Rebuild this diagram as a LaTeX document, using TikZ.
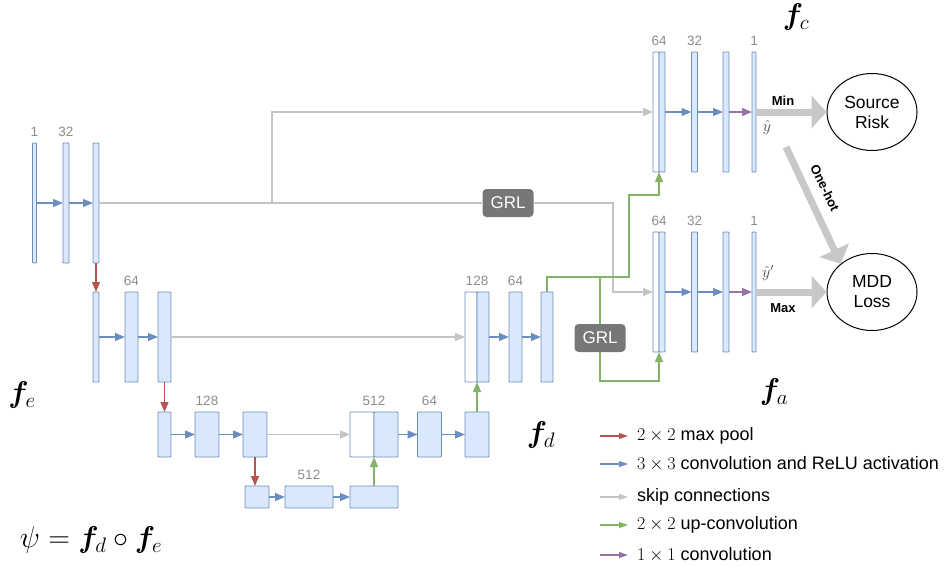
\documentclass[tikz,border=0pt]{standalone}
\usepackage{fix-cm}
\usepackage{amsmath,amssymb,bm}
\usepackage{fontspec}
\setmainfont{Liberation Sans}
\usepackage{tikz}
\usetikzlibrary{arrows.meta,calc,positioning,shapes.geometric}
\definecolor{barfill}{HTML}{DAE8FC}
\definecolor{bardraw}{HTML}{6C8EBF}
\definecolor{poolred}{HTML}{B85450}
\definecolor{upgreen}{HTML}{82B366}
\definecolor{skipgray}{HTML}{C4C4C4}
\definecolor{onepurple}{HTML}{9673A6}
\definecolor{grlgray}{HTML}{777777}
\definecolor{lossgray}{HTML}{C8C8C8}
\definecolor{numgray}{HTML}{8C8C8C}
\tikzset{
    mybar/.style 2 args={draw=bardraw,fill=barfill,line width=0.9pt,rounded corners=0.8pt,inner sep=0pt,outer sep=0pt,minimum width=#1,minimum height=#2},
    myhalf/.style 2 args={mybar={#1}{#2},fill=white},
    myconv/.style={draw=bardraw,line width=1.2pt,-{Triangle[length=10pt,width=8pt]}},
    mypool/.style={myconv,draw=poolred},
    myup/.style={myconv,draw=upgreen},
    myskip/.style={myconv,draw=skipgray,line width=1.4pt},
    myone/.style={myconv,draw=onepurple},
    mybig/.style={draw=lossgray,line width=7pt,-{Triangle[length=15pt,width=32pt]}},
    mygrl/.style={fill=grlgray,text=white,rounded corners=4pt,minimum width=51pt,minimum height=28pt,inner sep=0pt,font=\fontsize{17}{17}\selectfont},
    myloss/.style={ellipse,draw=black,line width=1pt,minimum width=90pt,minimum height=77pt,inner sep=0pt,align=center,font=\fontsize{17.5}{20}\selectfont},
    mynum/.style={text=numgray,inner sep=0pt,font=\fontsize{13.5}{14}\selectfont},
    mytag/.style={inner sep=0pt,font=\bfseries\fontsize{13}{14}\selectfont},
    myhat/.style={inner sep=0pt,text=black!70,font=\fontsize{16}{16}\selectfont},
    myf/.style={inner sep=0pt,font=\fontsize{30}{32}\selectfont},
    mylegend/.style={line width=1.2pt,-{Triangle[length=9pt,width=6pt]}},
    mykey/.style={anchor=west,inner sep=0pt,font=\fontsize{18}{20}\selectfont}
}
\begin{document}
\begin{tikzpicture}[x=1pt,y=-1pt]
  \useasboundingbox (0,0) rectangle (947,565);

  % 编码器
  \node[mybar={4pt}{120pt}] (e11) at (34.5,203) {};
  \node[mybar={6pt}{120pt}] (e12) at (66,203) {};
  \node[mybar={6pt}{120pt}] (e13) at (96,203) {};
  \node[mybar={6pt}{90pt}] (e21) at (96,337) {};
  \node[mybar={13pt}{90pt}] (e22) at (131.5,337) {};
  \node[mybar={13pt}{90pt}] (e23) at (164.5,337) {};
  \node[mybar={13pt}{45pt}] (e31) at (164.5,434.5) {};
  \node[mybar={24pt}{45pt}] (e32) at (207,434.5) {};
  \node[mybar={24pt}{45pt}] (e33) at (255,434.5) {};
  \node[mybar={24pt}{22pt}] (b1) at (257,497) {};
  \node[mybar={48pt}{22pt}] (b2) at (309,497) {};
  \node[mybar={48pt}{22pt}] (b3) at (374,497) {};

  % 解码器
  \node[myhalf={24pt}{45pt}] (d31a) at (362,434.5) {};
  \node[mybar={24pt}{45pt}] (d31b) at (386,434.5) {};
  \node[mybar={24pt}{45pt}] (d32) at (429.5,434.5) {};
  \node[mybar={24pt}{45pt}] (d33) at (477,434.5) {};
  \node[myhalf={12pt}{90pt}] (d21a) at (471,337) {};
  \node[mybar={12pt}{90pt}] (d21b) at (483,337) {};
  \node[mybar={13pt}{90pt}] (d22) at (515.5,337) {};
  \node[mybar={12pt}{90pt}] (d23) at (547,337) {};

  % 通道数
  \node[mynum,above=6pt of e11.north] (n11) {1};
  \node[mynum,above=6pt of e12.north] (n12) {32};
  \node[mynum,above=6pt of e22.north] (n22) {64};
  \node[mynum,above=6pt of e32.north] (n32) {128};
  \node[mynum,above=6pt of b2.north] (nb2) {512};
  \node[mynum,above=6pt of d31a.north east] (nd31) {512};
  \node[mynum,above=6pt of d32.north] (nd32) {64};
  \node[mynum,above=6pt of d21a.north east] (nd21) {128};
  \node[mynum,above=6pt of d22.north] (nd22) {64};

  % 卷积与池化
  \draw[myconv] (e11.east) -- (e12.west);
  \draw[myconv] (e12.east) -- (e13.west);
  \draw[myconv] (e21.east) -- (e22.west);
  \draw[myconv] (e22.east) -- (e23.west);
  \draw[myconv] (e31.east) -- (e32.west);
  \draw[myconv] (e32.east) -- (e33.west);
  \draw[myconv] (b1.east) -- (b2.west);
  \draw[myconv] (b2.east) -- (b3.west);
  \draw[myconv] (d31b.east) -- (d32.west);
  \draw[myconv] (d32.east) -- (d33.west);
  \draw[myconv] (d21b.east) -- (d22.west);
  \draw[myconv] (d22.east) -- (d23.west);
  \draw[mypool] (e13.south) -- (e21.north);
  \draw[mypool] (e23.south) -- (e31.north);
  \draw[mypool] (e33.south) -- (e33.south |- b1.north);
  \draw[myup] (b3.north) -- (b3.north |- d31b.south);
  \draw[myup] (d33.north) -- (d33.north |- d21b.south);

  % 两个分类头
  \foreach \h/\y in {c/112,a/292}{
    \node[myhalf={6pt}{120pt}] (\h1) at (656,\y) {};
    \node[mybar={6pt}{120pt}] (\h2) at (662,\y) {};
    \node[mybar={6pt}{120pt}] (\h3) at (694.5,\y) {};
    \node[mybar={6pt}{120pt}] (\h4) at (726,\y) {};
    \node[mybar={4pt}{120pt}] (\h5) at (754,\y) {};
    \draw[myconv] (\h2.east) -- (\h3.west);
    \draw[myconv] (\h3.east) -- (\h4.west);
    \draw[myone] (\h4.east) -- (\h5.west);
    \node[mynum,above=6pt of \h1.north east] (\h n1) {64};
    \node[mynum,above=6pt of \h3.north] (\h n3) {32};
    \node[mynum,above=6pt of \h5.north] (\h n5) {1};
  }

  % 跳跃连接
  \node[mygrl] (grl1) at (508,203) {GRL};
  \node[mygrl] (grl2) at (600,338) {GRL};
  \coordinate (sk1) at (272,203);
  \coordinate (sk2) at (613,203);
  \draw[myskip,-] (e13.east) -- (sk1) -- (grl1.west);
  \draw[myskip] (sk1) |- (c1.west);
  \draw[myskip] (grl1.east) -- (sk2) |- (a1.west);
  \draw[myskip] (e23.east) -- (d21a.west);
  \draw[myskip] (e33.east) -- (d31a.west);

  % 上采样到分类头
  \coordinate (g1) at (547,277);
  \coordinate (g2) at (629,277);
  \coordinate (g3) at (629,195);
  \coordinate (g4) at (600,277);
  \coordinate (g5) at (659,381);
  \draw[myup] (d23.north) |- (g1) -- (g2) -- (g3) -| (c1.south east);
  \draw[draw=upgreen,line width=1.2pt] (g4) -- (grl2.north);
  \draw[myup] (grl2.south) |- (g5) -- (a1.south east);

  % 损失
  \node[myloss] (src) at (872,112) {Source\\Risk};
  \node[myloss] (mdd) at (872,292) {MDD\\Loss};
  \coordinate (oh) at (786,147);
  \draw[mybig] (c5.east) -- (src.west);
  \draw[mybig] (a5.east) -- (mdd.west);
  \draw[mybig] (oh) -- (mdd.138);
  \node[mytag] (tmin) at (783,101) {Min};
  \node[mytag] (tmax) at (783,308) {Max};
  \node[mytag,rotate=-64] (toh) at (825,188) {One-hot};
  \node[myhat] (yc) at (767,127) {$\hat{y}$};
  \node[myhat] (ya) at (768,273) {$\hat{y}'$};

  % 网络记号
  \node[myf] (fc) at (796,17) {$\boldsymbol{f}_c$};
  \node[myf] (fa) at (774,392) {$\boldsymbol{f}_a$};
  \node[myf] (fd) at (541,435) {$\boldsymbol{f}_d$};
  \node[myf] (fe) at (22,395) {$\boldsymbol{f}_e$};
  \node[myf] (psi) at (91,540) {$\psi=\boldsymbol{f}_d\circ\boldsymbol{f}_e$};

  % 图例
  \foreach \y/\c/\t [count=\i] in {436/poolred/{$2\times2$ max pool},
      464/bardraw/{$3\times3$ convolution and ReLU activation},
      497/skipgray/{skip connections},
      525/upgreen/{$2\times2$ up-convolution},
      555/onepurple/{$1\times1$ convolution}}{
    \coordinate (la\i) at (600,\y);
    \coordinate (lb\i) at (628,\y);
    \draw[mylegend,draw=\c] (la\i) -- (lb\i);
    \node[mykey] (lt\i) at (637,\y) {\t};
  }
\end{tikzpicture}
\end{document}
